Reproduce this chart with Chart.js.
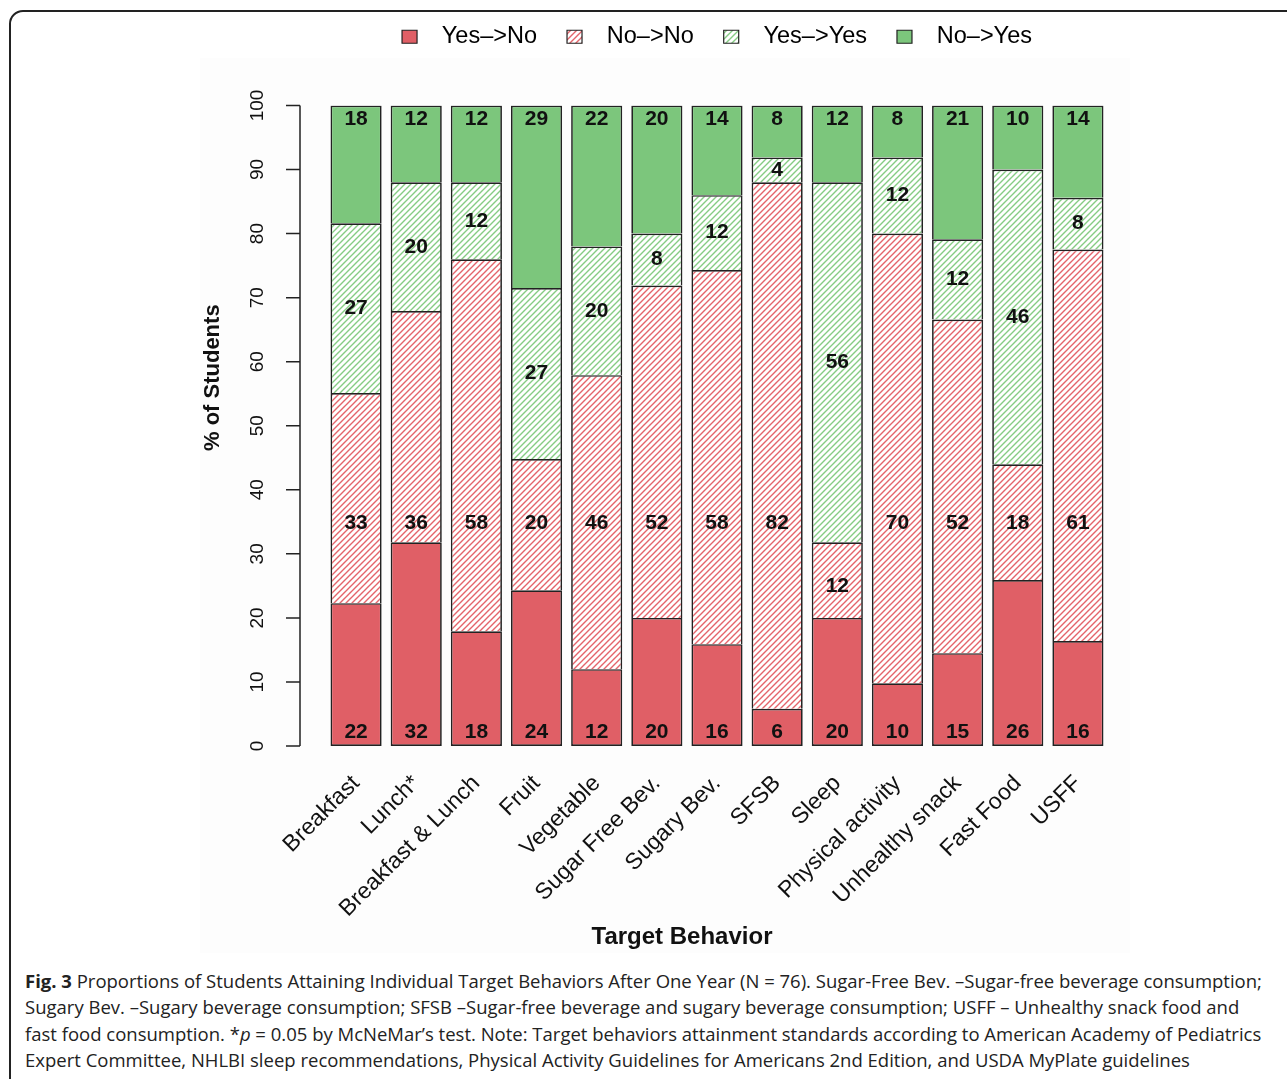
<!DOCTYPE html>
<html>
<head>
<meta charset="utf-8">
<script src="https://cdn.jsdelivr.net/npm/chart.js@4.4.1/dist/chart.umd.min.js"></script>
<style>
  html, body { margin:0; padding:0; background:#fff; width:1287px; height:1079px; overflow:hidden; }
  #frame { position:absolute; left:9px; top:10px; width:1320px; height:1100px; border:2px solid #222; border-radius:14px; box-sizing:border-box; }
  #figbg { position:absolute; left:200px; top:58px; width:930px; height:895px; background:#fdfdfd; }
  #wrap { position:absolute; left:0; top:-17px; width:1287px; height:977px; }
  #caption { position:absolute; left:25px; top:968px; font-family:"Open Sans", sans-serif; font-size:18.5px; line-height:26.4px; color:#222; white-space:nowrap; }
</style>
</head>
<body>
<div id="frame"></div>
<div id="figbg"></div>
<div id="wrap"><canvas id="chart" width="1287" height="977"></canvas></div>
<div id="caption">
<b>Fig. 3</b> Proportions of Students Attaining Individual Target Behaviors After One Year (N = 76). Sugar-Free Bev. –Sugar-free beverage consumption;<br>
Sugary Bev. –Sugary beverage consumption; SFSB –Sugar-free beverage and sugary beverage consumption; USFF – Unhealthy snack food and<br>
fast food consumption. *<i>p</i> = 0.05 by McNeMar’s test. Note: Target behaviors attainment standards according to American Academy of Pediatrics<br>
Expert Committee, NHLBI sleep recommendations, Physical Activity Guidelines for Americans 2nd Edition, and USDA MyPlate guidelines
</div>
<script>
// categories and stacked shares (% of students)
const categories = ['Breakfast','Lunch*','Breakfast & Lunch','Fruit','Vegetable','Sugar Free Bev.','Sugary Bev.','SFSB','Sleep','Physical activity','Unhealthy snack','Fast Food','USFF'];
const seriesNames = ['Yes–>No','No–>No','Yes–>Yes','No–>Yes'];

const yesNo  = [22.3,31.8,17.9,24.3,12.0,20.0,15.9, 5.8,20.0, 9.8,14.5,25.9,16.4];
const noNo   = [32.8,36.1,58.1,20.5,45.9,51.9,58.4,82.2,11.8,70.2,52.1,18.1,61.1];
const yesYes = [26.5,20.1,12.0,26.7,20.1, 8.1,11.7, 3.9,56.2,11.9,12.5,46.0, 8.1];
const noYes  = [18.4,12.0,12.0,28.5,22.0,20.0,14.0, 8.1,12.0, 8.1,20.9,10.0,14.4];

// printed numbers on the segments
const yesNoLbl  = [22,32,18,24,12,20,16, 6,20,10,15,26,16];
const noNoLbl   = [33,36,58,20,46,52,58,82,12,70,52,18,61];
const yesYesLbl = [27,20,12,27,20, 8,12, 4,56,12,12,46, 8];
const noYesLbl  = [18,12,12,29,22,20,14, 8,12, 8,21,10,14];

const yTicks = [0,10,20,30,40,50,60,70,80,90,100];

const RED = '#e05f66', GREEN = '#7cc67c';

function hatch(color){
  const c = document.createElement('canvas');
  c.width = 6; c.height = 6;
  const x = c.getContext('2d');
  x.fillStyle = '#fff'; x.fillRect(0,0,6,6);
  x.strokeStyle = color; x.lineWidth = 1.4;
  x.beginPath();
  x.moveTo(-1,7); x.lineTo(7,-1);
  x.moveTo(-1,1); x.lineTo(1,-1);
  x.moveTo(5,7); x.lineTo(7,5);
  x.stroke();
  return x.createPattern(c,'repeat');
}
const ctx = document.getElementById('chart').getContext('2d');
const redHatch = hatch('#e4646b'), greenHatch = hatch('#86cc84');

const FONT = '"Liberation Sans", Arial, Helvetica, sans-serif';

// legend: push chart area down
const legendSpace = {
  id:'legendSpace',
  beforeInit(chart){
    const fit = chart.legend.fit;
    chart.legend.fit = function(){ fit.bind(chart.legend)(); this.height += 47; };
  }
};

// y axis R style, y title and x title
const axesR = {
  id:'axesR',
  afterDraw(chart){
    const c = chart.ctx, y = chart.scales.y, a = chart.chartArea;
    const ax = a.left - 26;
    c.save();
    c.strokeStyle = '#222'; c.lineWidth = 1.5;
    c.beginPath();
    c.moveTo(ax, y.getPixelForValue(0)); c.lineTo(ax, y.getPixelForValue(100));
    yTicks.forEach(t => { const py = y.getPixelForValue(t); c.moveTo(ax-14, py); c.lineTo(ax, py); });
    c.stroke();
    c.fillStyle = '#111';
    c.font = '19px ' + FONT;
    c.textAlign = 'center'; c.textBaseline = 'middle';
    yTicks.forEach(t => {
      c.save(); c.translate(ax-42, y.getPixelForValue(t)); c.rotate(-Math.PI/2);
      c.fillText(String(t), 0, 0); c.restore();
    });
    c.font = 'bold 22px ' + FONT;
    c.save(); c.translate(ax-87, y.getPixelForValue(57.5)); c.rotate(-Math.PI/2);
    c.fillText('% of Students', 0, 0); c.restore();
    c.font = 'bold 24px ' + FONT;
    c.fillText('Target Behavior', (a.left + a.right) / 2 - 35, a.bottom + 191);
    c.restore();
  }
};

// numbers inside the segments
const segLabels = {
  id:'segLabels',
  afterDatasetsDraw(chart){
    const c = chart.ctx, y = chart.scales.y;
    const lbls = [yesNoLbl, noNoLbl, yesYesLbl, noYesLbl];
    c.save();
    c.font = 'bold 21px ' + FONT;
    c.fillStyle = '#111'; c.textAlign = 'center'; c.textBaseline = 'middle';
    categories.forEach((_, j) => {
      const x = chart.getDatasetMeta(0).data[j].x;
      const b1 = yesNo[j], b2 = b1 + noNo[j], b3 = b2 + yesYes[j];
      const pos = [
        2.2,
        (b1 < 34.8 && b2 > 34.8) ? 34.8 : (b1 + b2) / 2 - 1,
        (b2 + b3) / 2,
        97.8
      ];
      pos.forEach((v, i) => c.fillText(String(lbls[i][j]), x, y.getPixelForValue(v)));
    });
    c.restore();
  }
};

const mk = (label, data, bg, first) => ({
  label, data, backgroundColor: bg, borderColor:'#222',
  borderWidth:{ top:1.7, left:1.7, right:1.7, bottom: first ? 1.7 : 0 }, borderSkipped:false,
  barPercentage:0.85, categoryPercentage:1.0
});

new Chart(ctx, {
  type:'bar',
  data:{
    labels: categories,
    datasets:[
      mk(seriesNames[0], yesNo, RED, true),
      mk(seriesNames[1], noNo, redHatch),
      mk(seriesNames[2], yesYes, greenHatch),
      mk(seriesNames[3], noYes, GREEN)
    ]
  },
  options:{
    responsive:false, animation:false, devicePixelRatio:1,
    layout:{ padding:{ top:12, left:326, right:179, bottom:0 } },
    plugins:{
      legend:{
        position:'top',
        labels:{
          font:{ family:FONT, size:23.5 }, color:'#111', boxWidth:15, boxHeight:13, padding:30,
          generateLabels(chart){
            return chart.data.datasets.map((d,i) => ({
              text:'  ' + d.label, fillStyle:d.backgroundColor, strokeStyle:'#222', lineWidth:1.2, datasetIndex:i
            }));
          }
        }
      },
      tooltip:{ enabled:false }
    },
    scales:{
      x:{
        stacked:true,
        grid:{ display:false, drawTicks:false }, border:{ display:false },
        ticks:{ font:{ family:FONT, size:23 }, color:'#111', minRotation:45, maxRotation:45, padding:24, autoSkip:false },
        afterFit(s){ s.height = 214; }
      },
      y:{ stacked:true, display:false, min:0, max:100 }
    }
  },
  plugins:[legendSpace, axesR, segLabels]
});
</script>
</body>
</html>
